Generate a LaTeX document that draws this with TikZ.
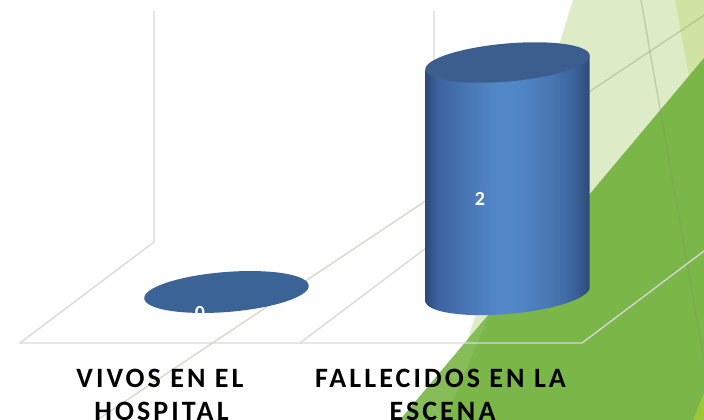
\documentclass[tikz,border=0pt]{standalone}
\usepackage{fontspec}
\setmainfont{Carlito}
\newfontfamily\labfont[LetterSpace=11]{Carlito}
\definecolor{lightgreen}{HTML}{DDEBC6}
\definecolor{stripgreen}{HTML}{D1E3A3}
\definecolor{midgreen}{HTML}{7AB648}
\definecolor{bandgreen}{HTML}{86BD58}
\definecolor{yellowgreen}{HTML}{9DC63A}
\definecolor{gridgrey}{HTML}{D9D9D9}
\definecolor{decocol}{HTML}{7E9462}
\definecolor{topblue}{HTML}{3B5E8E}
\definecolor{flatblue}{HTML}{3B6396}
\definecolor{cA}{HTML}{2B4A78}
\definecolor{cB}{HTML}{3D64A0}
\definecolor{cC}{HTML}{4977B5}
\definecolor{cD}{HTML}{5288C8}
\definecolor{cE}{HTML}{5186C6}
\definecolor{cF}{HTML}{4877B3}
\definecolor{cG}{HTML}{3C649C}
\definecolor{cH}{HTML}{2C4A76}
\pgfdeclarehorizontalshading{cylbody}{100bp}{color(0bp)=(cA); color(25bp)=(cA); color(29bp)=(cB); color(38bp)=(cC); color(47bp)=(cD); color(54bp)=(cE); color(63bp)=(cF); color(70bp)=(cG); color(75bp)=(cH); color(100bp)=(cH)}
\tikzset{
  gridline/.style={draw=gridgrey, line width=1.3pt},
  decoline/.style={draw=decocol, opacity=0.35, line width=1.3pt},
  catlabel/.style={font=\labfont\bfseries\fontsize{28}{34}\selectfont, text=black, inner sep=0pt, anchor=base},
  vallabel/.style={font=\bfseries\fontsize{20}{24}\selectfont, text=white, inner sep=0pt}
}
\begin{document}
\begin{tikzpicture}[x=1pt,y=-1pt]
\useasboundingbox (0,0) rectangle (704,420);
\clip (0,0) rectangle (704,420);
\fill[white] (0,0) rectangle (704,420);
% slide background facets
\fill[lightgreen] (573,0) -- (704,0) -- (704,420) -- (443,420) -- cycle;
\fill[stripgreen] (675,0) -- (704,0) -- (704,58) -- (689,76) -- cycle;
\fill[midgreen] (704,58) -- (704,420) -- (400,420) -- cycle;
\fill[bandgreen] (489,315) -- (400,420) -- (445,420) -- cycle;
\fill[yellowgreen] (693,420) -- (704,393) -- (704,420) -- cycle;
\draw[decoline] (60,444.7) -- (740,-8.7);
\draw[decoline] (641,0) -- (704,360);
% chart walls and floor
\draw[gridline] (154,11) -- (154,242) -- (20,343) -- (582,343) -- (716,242);
\draw[gridline] (434,11) -- (434,242) -- (300,343);
% value 0 : flat disc
\fill[flatblue] plot[domain=0:360,samples=90,smooth cycle] ({226.5+82.5*cos(\x)*cos(4.5)-20*sin(\x)*sin(4.5)},{292-82.5*cos(\x)*sin(4.5)-20*sin(\x)*cos(4.5)});
\node[vallabel] (v0) at (200,313.5) {0};
% value 2 : cylinder
\shade[shading=cylbody] plot[domain=180:360,samples=60] ({507.5+82.5*cos(\x)*cos(5)-20*sin(\x)*sin(5)},{294-82.5*cos(\x)*sin(5)-20*sin(\x)*cos(5)}) -- (589.69,55.31) -- (425.31,69.69) -- cycle;
\fill[topblue] plot[domain=0:360,samples=90,smooth cycle] ({507.5+82.5*cos(\x)*cos(5)-19*sin(\x)*sin(5)},{62.5-82.5*cos(\x)*sin(5)-19*sin(\x)*cos(5)});
\node[vallabel] (v2) at (480,198.5) {2};
% category labels
\node[catlabel] (c1a) at (160,387) {VIVOS EN EL};
\node[catlabel] (c1b) at (161.5,420) {HOSPITAL};
\node[catlabel] (c2a) at (440.5,387) {FALLECIDOS EN LA};
\node[catlabel] (c2b) at (442.5,420) {ESCENA};
\end{tikzpicture}
\end{document}
